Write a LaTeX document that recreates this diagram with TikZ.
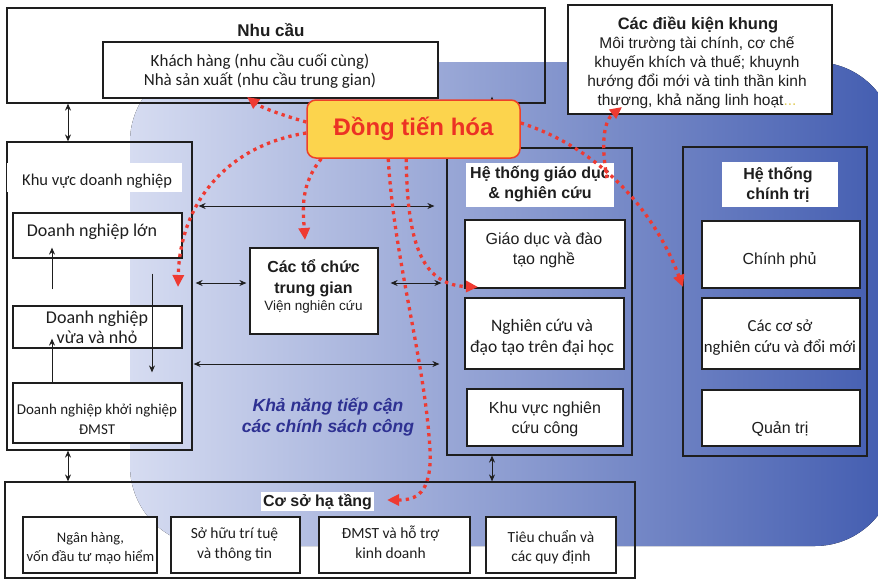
\documentclass[tikz,border=0pt]{standalone}
\usepackage{fontspec}
\setmainfont{Liberation Sans}
\newfontfamily\myr{Carlito}
\usetikzlibrary{arrows.meta,calc}
\definecolor{bgL}{RGB}{214,220,241}
\definecolor{bgR}{RGB}{66,92,176}
\definecolor{ylw}{RGB}{252,212,77}
\definecolor{rdb}{RGB}{238,65,40}
\definecolor{rdt}{RGB}{236,50,36}
\definecolor{dotc}{RGB}{238,58,50}
\definecolor{navy}{RGB}{46,49,146}
\definecolor{ink}{RGB}{30,30,30}
\definecolor{dotylw}{RGB}{225,205,90}
\newcommand\fsz[2]{\fontsize{#1}{#2}\selectfont}
\tikzset{
  box/.style={draw=ink, line width=1.2pt, fill=white, inner sep=0pt},
  frm/.style={draw=ink, line width=1.2pt, inner sep=0pt},
  lab/.style={fill=white, inner sep=0pt},
  txt/.style={inner sep=0pt, align=center, anchor=base, text=ink},
  barr/.style={draw=ink, line width=1pt, >={Stealth[length=7pt,width=6pt]}, <->},
  uarr/.style={draw=ink, line width=1pt, >={Stealth[length=7pt,width=6pt]}, ->},
  rdot/.style={draw=dotc, line width=3.3pt, dash pattern=on 3.3pt off 4.2pt, arrows={-Triangle[length=12pt,width=11pt]}},
}
\begin{document}
\begin{tikzpicture}[x=1pt,y=-1pt]
\useasboundingbox (0,0) rectangle (878,579);
% background
\fill[left color=bgL, right color=bgR] (130,300) [rounded corners=80pt] -- (130,62) -- (895,62) -- (895,546) -- (130,546) [rounded corners=50pt] -- cycle;

% helper coordinates
\coordinate (xL) at (68,0);
\coordinate (xE) at (492,0);
\coordinate (xa) at (52,0);
\coordinate (xb) at (152,0);
\coordinate (yA) at (0,206);
\coordinate (yM) at (0,283);
\coordinate (yB) at (0,364);

% Nhu cau
\node[frm, minimum width=538pt, minimum height=95pt] (need) at (276,55.5) {};
\node[box, minimum width=335pt, minimum height=56pt] (needin) at (270.5,70) {};
\node[txt, font=\bfseries\fsz{17}{20}] (needt) at (271,36) {Nhu cầu};
\node[txt, font=\myr\fsz{17}{19.5}] (needtx) at (260,85.5) {Khách hàng (nhu cầu cuối cùng)\\Nhà sản xuất (nhu cầu trung gian)};

% Cac dieu kien khung
\node[box, minimum width=264pt, minimum height=109pt] (frame) at (700,59.5) {};
\node[txt, font=\bfseries\fsz{16.5}{19}] (framet) at (698,29) {Các điều kiện khung};
\node[txt, font=\fsz{15.5}{19}] (frametx) at (697,105) {Môi trường tài chính, cơ chế\\khuyến khích và thuế; khuynh\\hướng đổi mới và tinh thần kinh\\thương, khả năng linh hoạt{\color{dotylw}...}};

% Khu vuc doanh nghiep
\node[frm, minimum width=185pt, minimum height=308pt] (biz) at (99.5,296) {};
\node[lab, minimum width=175pt, minimum height=29pt, anchor=north west] (bizlab) at (7,163) {};
\node[txt, anchor=base west, font=\myr\fsz{16.5}{19}] (bizt) at (22,185) {Khu vực doanh nghiệp};
\node[box, minimum width=169pt, minimum height=45pt] (large) at (97.5,235.5) {};
\node[txt, font=\myr\fsz{18}{20}] (larget) at (92,236) {Doanh nghiệp lớn};
\node[box, minimum width=169pt, minimum height=42pt] (sme) at (97.5,327) {};
\node[txt, font=\myr\fsz{18}{20}] (smet) at (97,343) {Doanh nghiệp\\vừa và nhỏ};
\node[box, minimum width=169pt, minimum height=60pt] (startup) at (97.5,413) {};
\node[txt, font=\myr\fsz{15}{20}] (startupt) at (97,434) {Doanh nghiệp khởi nghiệp\\ĐMST};

% Cac to chuc trung gian
\node[box, minimum width=128pt, minimum height=86pt] (inter) at (314,291) {};
\node[txt, font=\bfseries\fsz{16}{21}] (intert) at (313.5,293) {Các tổ chức\\trung gian};
\node[txt, font=\fsz{13.5}{16}] (intersub) at (313.5,310) {Viện nghiên cứu};

% Kha nang tiep can
\node[txt, font=\bfseries\itshape\fsz{17.5}{21}, text=navy] (access) at (328,432) {Khả năng tiếp cận\\các chính sách công};

% He thong giao duc
\node[frm, minimum width=185pt, minimum height=307pt] (edu) at (539.5,301.5) {};
\node[lab, minimum width=148pt, minimum height=44pt] (edulab) at (540,185) {};
\node[txt, font=\bfseries\fsz{16}{20}] (edut) at (540,198) {Hệ thống giáo dục\\\& nghiên cứu};
\node[box, minimum width=160pt, minimum height=68pt] (voc) at (545,254) {};
\node[txt, font=\fsz{16}{20}] (voct) at (544,264) {Giáo dục và đào\\tạo nghề};
\node[box, minimum width=159pt, minimum height=71pt] (uni) at (544.5,333.5) {};
\node[txt, font=\myr\fsz{17.5}{21}] (unit) at (542,352) {Nghiên cứu và\\đạo tạo trên đại học};
\node[box, minimum width=156pt, minimum height=57pt] (pub) at (545,417.5) {};
\node[txt, font=\fsz{16}{20}] (pubt) at (545,433) {Khu vực nghiên\\cứu công};

% He thong chinh tri
\node[frm, minimum width=184pt, minimum height=309pt] (pol) at (775,301.5) {};
\node[lab, minimum width=116pt, minimum height=45pt] (pollab) at (780,184.5) {};
\node[txt, font=\bfseries\fsz{16}{20}] (polt) at (778,199) {Hệ thống\\chính trị};
\node[box, minimum width=158pt, minimum height=67pt] (gov) at (781,254.5) {};
\node[txt, font=\fsz{16}{20}] (govt) at (779.5,264) {Chính phủ};
\node[box, minimum width=158pt, minimum height=71pt] (inst) at (781,333.5) {};
\node[txt, font=\myr\fsz{16.8}{21}] (instt) at (780,352) {Các cơ sở\\nghiên cứu và đổi mới};
\node[box, minimum width=158pt, minimum height=56pt] (mgmt) at (781,418) {};
\node[txt, font=\fsz{16}{20}] (mgmtt) at (780,433) {Quản trị};

% Co so ha tang
\node[frm, minimum width=630pt, minimum height=96pt] (infra) at (320,530) {};
\node[txt, fill=white, inner sep=2pt, font=\bfseries\fsz{16}{19}] (infralab) at (317.5,506) {Cơ sở hạ tầng};
\node[box, minimum width=134pt, minimum height=56pt] (bank) at (90,545) {};
\node[txt, font=\myr\fsz{14.6}{19}] (bankt) at (90.5,561) {Ngân hàng,\\vốn đầu tư mạo hiểm};
\node[box, minimum width=129pt, minimum height=56pt] (ip) at (235.5,545) {};
\node[txt, font=\myr\fsz{15.5}{20}] (ipt) at (234.5,558) {Sở hữu trí tuệ\\và thông tin};
\node[box, minimum width=151pt, minimum height=56pt] (bsup) at (394.5,545) {};
\node[txt, font=\myr\fsz{15.5}{20}] (bsupt) at (390.5,558) {ĐMST và hỗ trợ\\kinh doanh};
\node[box, minimum width=130pt, minimum height=56pt] (std) at (551,545) {};
\node[txt, font=\myr\fsz{15.5}{19}] (stdt) at (551,561) {Tiêu chuẩn và\\các quy định};

% black connectors
\draw[barr] (need.south -| xL) -- (biz.north -| xL);
\draw[uarr] (edu.north -| xE) -- ($(need.south -| xE)+(0,-7)$);
\draw[barr, shorten <=6pt, shorten >=12pt] (biz.east |- yA) -- (edu.west |- yA);
\draw[barr, shorten <=3pt, shorten >=3pt] (biz.east |- yM) -- (inter.west |- yM);
\draw[barr, shorten <=12pt, shorten >=5pt] (inter.east |- yM) -- (edu.west |- yM);
\draw[barr, shorten <=1pt, shorten >=7pt] (biz.east |- yB) -- (edu.west |- yB);
\draw[barr] (edu.south -| xE) -- (infra.north -| xE);
\draw[barr] (biz.south -| xL) -- (infra.north -| xL);
\draw[uarr, shorten <=16pt, shorten >=-11pt] (sme.north -| xa) -- (large.south -| xa);
\draw[uarr, shorten >=-10pt] (startup.north -| xa) -- (sme.south -| xa);
\draw[uarr, shorten <=15pt, shorten >=10pt] (large.south -| xb) -- (startup.north -| xb);

% Dong tien hoa
\node[fill=ylw, draw=rdb, line width=1.5pt, rounded corners=9pt, minimum width=213pt, minimum height=58pt, inner sep=0pt, text=rdt, font=\bfseries\fsz{24}{28}] (cotien) at (413.5,129) {Đồng tiến hóa};

% red dotted connectors
\coordinate (s1) at ($(cotien.west)+(0,-7)$);
\coordinate (t1) at (247,97);
\coordinate (s2) at ($(cotien.west)+(0,4)$);
\coordinate (t2) at (178,287);
\coordinate (s3) at ($(cotien.south west)+(15,0)$);
\coordinate (t3) at (305,240);
\coordinate (s4) at ($(cotien.south west)+(82,0)$);
\coordinate (t4) at (387,500);
\coordinate (s5) at ($(cotien.south west)+(100,0)$);
\coordinate (t5) at (478,287);
\coordinate (s6) at ($(cotien.east)+(0,-6)$);
\coordinate (t6) at (683,287);
\coordinate (s7) at (607,178);
\coordinate (t7) at (622,107);
\draw[rdot] (s1) .. controls (285,116) and (262,108) .. (t1);
\draw[rdot] (s2) .. controls (230,145) and (180,200) .. (t2);
\draw[rdot] (s3) .. controls (300,185) and (303,210) .. (t3);
\draw[rdot] (s4) .. controls (394,260) and (425,360) .. (430,450) .. controls (432,495) and (415,500) .. (t4);
\draw[rdot] (s5) .. controls (407,250) and (425,285) .. (t5);
\draw[rdot] (s6) .. controls (590,145) and (650,200) .. (t6);
\draw[rdot] (s7) .. controls (600,140) and (605,120) .. (t7);
\end{tikzpicture}
\end{document}
